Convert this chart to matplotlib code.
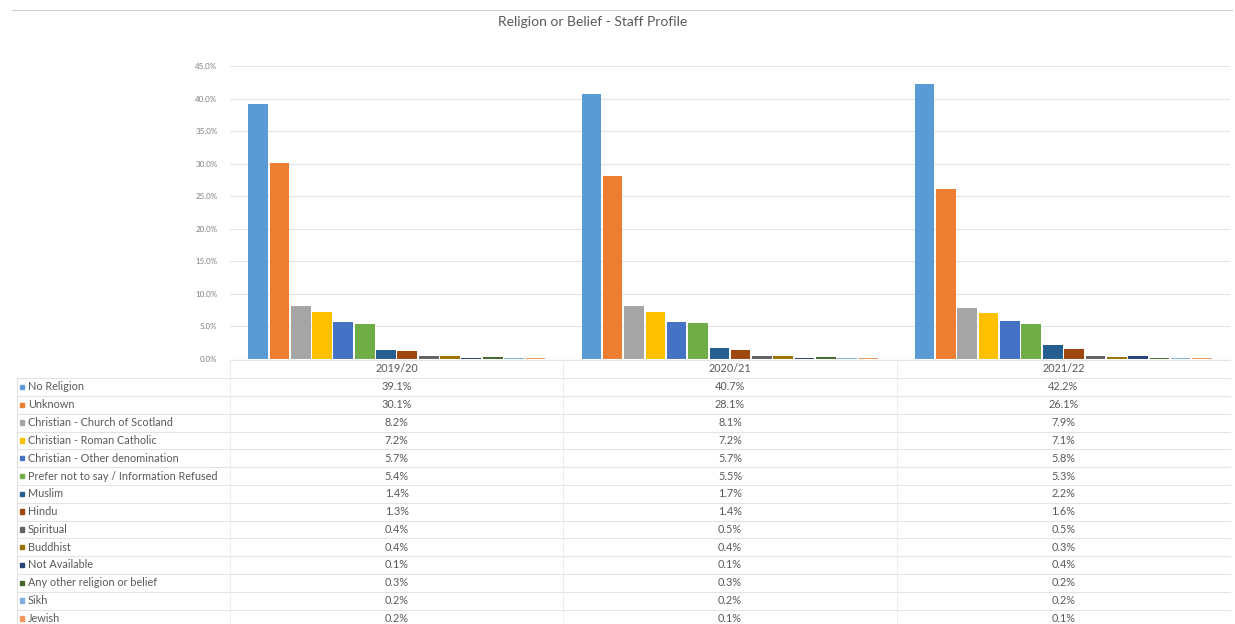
import matplotlib
matplotlib.use("Agg")
import matplotlib.pyplot as plt
import matplotlib.transforms as mtransforms
from matplotlib.lines import Line2D
from matplotlib.patches import Rectangle
import numpy as np

plt.rcParams['font.family'] = ['Lato', 'DejaVu Sans']

title = "Religion or Belief - Staff Profile"
years = ["2019/20", "2020/21", "2021/22"]
categories = [
    "No Religion",
    "Unknown",
    "Christian - Church of Scotland",
    "Christian - Roman Catholic",
    "Christian - Other denomination",
    "Prefer not to say / Information Refused",
    "Muslim",
    "Hindu",
    "Spiritual",
    "Buddhist",
    "Not Available",
    "Any other religion or belief",
    "Sikh",
    "Jewish",
]
values_2019 = [39.1, 30.1, 8.2, 7.2, 5.7, 5.4, 1.4, 1.3, 0.4, 0.4, 0.1, 0.3, 0.2, 0.2]
values_2020 = [40.7, 28.1, 8.1, 7.2, 5.7, 5.5, 1.7, 1.4, 0.5, 0.4, 0.1, 0.3, 0.2, 0.1]
values_2021 = [42.2, 26.1, 7.9, 7.1, 5.8, 5.3, 2.2, 1.6, 0.5, 0.3, 0.4, 0.2, 0.2, 0.1]
y_ticks = [0, 5, 10, 15, 20, 25, 30, 35, 40, 45]

colors = ["#5B9BD5", "#ED7D31", "#A5A5A5", "#FFC000", "#4472C4", "#70AD47",
          "#255E91", "#9E480E", "#636363", "#997300", "#264478", "#43682B",
          "#7CAFDD", "#F1975A"]

W, H = 1235, 624
TEXT = "#595959"
GRID = "#E3E3E3"

fig = plt.figure(figsize=(W / 100, H / 100), dpi=100)
fig.patch.set_facecolor("white")


def fy(py):
    """Pixel row (from top) to figure fraction."""
    return 1 - py / H


def fx(px):
    return px / W


# plot area
ax_left, ax_right, ax_top, ax_bottom = 230, 1230, 66, 359
ax = fig.add_axes([fx(ax_left), fy(ax_bottom), fx(ax_right - ax_left),
                   (ax_bottom - ax_top) / H])

data = np.array([values_2019, values_2020, values_2021])  # years x categories
n_cat = len(categories)
x = np.arange(len(years))
pitch = 0.064
width = 0.059
offsets = (np.arange(n_cat) - (n_cat - 1) / 2) * pitch
for i, cat in enumerate(categories):
    ax.bar(x + offsets[i], data[:, i], width=width, color=colors[i],
           label=cat, zorder=3, linewidth=0)

ax.set_xlim(-0.5, len(years) - 0.5)
ax.set_ylim(0, 45)
ax.set_yticks(y_ticks)
ax.set_yticklabels([f"{t:.1f}%" for t in y_ticks], fontsize=5.8, color="#7F7F7F")
ax.tick_params(axis="y", length=0, pad=9)
ax.set_xticks([])
ax.grid(axis="y", color=GRID, linewidth=0.8, zorder=0)
for s in ax.spines.values():
    s.set_visible(False)
ax.axhline(0, color="#D9D9D9", linewidth=0.8, zorder=4)

fig.text(0.5 - 0.02, fy(22), title, ha="center", va="center",
         fontsize=10, color=TEXT)

# outer frame line along the top
fig.add_artist(Line2D([fx(12), fx(1232)], [fy(10), fy(10)],
                      color="#D0D0D0", linewidth=0.8))

# data table beneath the chart, columns aligned to the category axis
blend = mtransforms.blended_transform_factory(ax.transData, fig.transFigure)
header_y = 369
row_y0 = 387
row_h = 17.8
table_left = 17
FS = 7.8

for j, yr in enumerate(years):
    fig.text(x[j], fy(header_y), yr, transform=blend, ha="center",
             va="center", fontsize=FS, color=TEXT)

# horizontal row separators
for r in range(n_cat + 1):
    ly = row_y0 - row_h / 2 + r * row_h
    fig.add_artist(Line2D([fx(table_left), fx(1230)], [fy(ly), fy(ly)],
                          color=GRID, linewidth=0.8))
fig.add_artist(Line2D([fx(ax_left), fx(1230)], [fy(360), fy(360)],
                      color=GRID, linewidth=0.8))

# vertical column separators
VGRID = "#EDEDED"
for k in range(len(years)):
    fig.add_artist(Line2D([k - 0.5, k - 0.5], [fy(360), fy(622)],
                          transform=blend, color=VGRID, linewidth=0.8))
fig.add_artist(Line2D([fx(table_left), fx(table_left)],
                      [fy(row_y0 - row_h / 2), fy(622)],
                      color=GRID, linewidth=0.8))

for i, cat in enumerate(categories):
    ry = row_y0 + i * row_h
    fig.add_artist(Rectangle((fx(20), fy(ry) - 2.2 / H), 4.4 / W, 4.4 / H,
                             transform=fig.transFigure, color=colors[i]))
    fig.text(fx(28), fy(ry), cat, ha="left", va="center", fontsize=FS,
             color=TEXT)
    for j in range(len(years)):
        fig.text(x[j], fy(ry), f"{data[j, i]:.1f}%", transform=blend,
                 ha="center", va="center", fontsize=FS, color=TEXT)

fig.savefig("out.png", dpi=100)
